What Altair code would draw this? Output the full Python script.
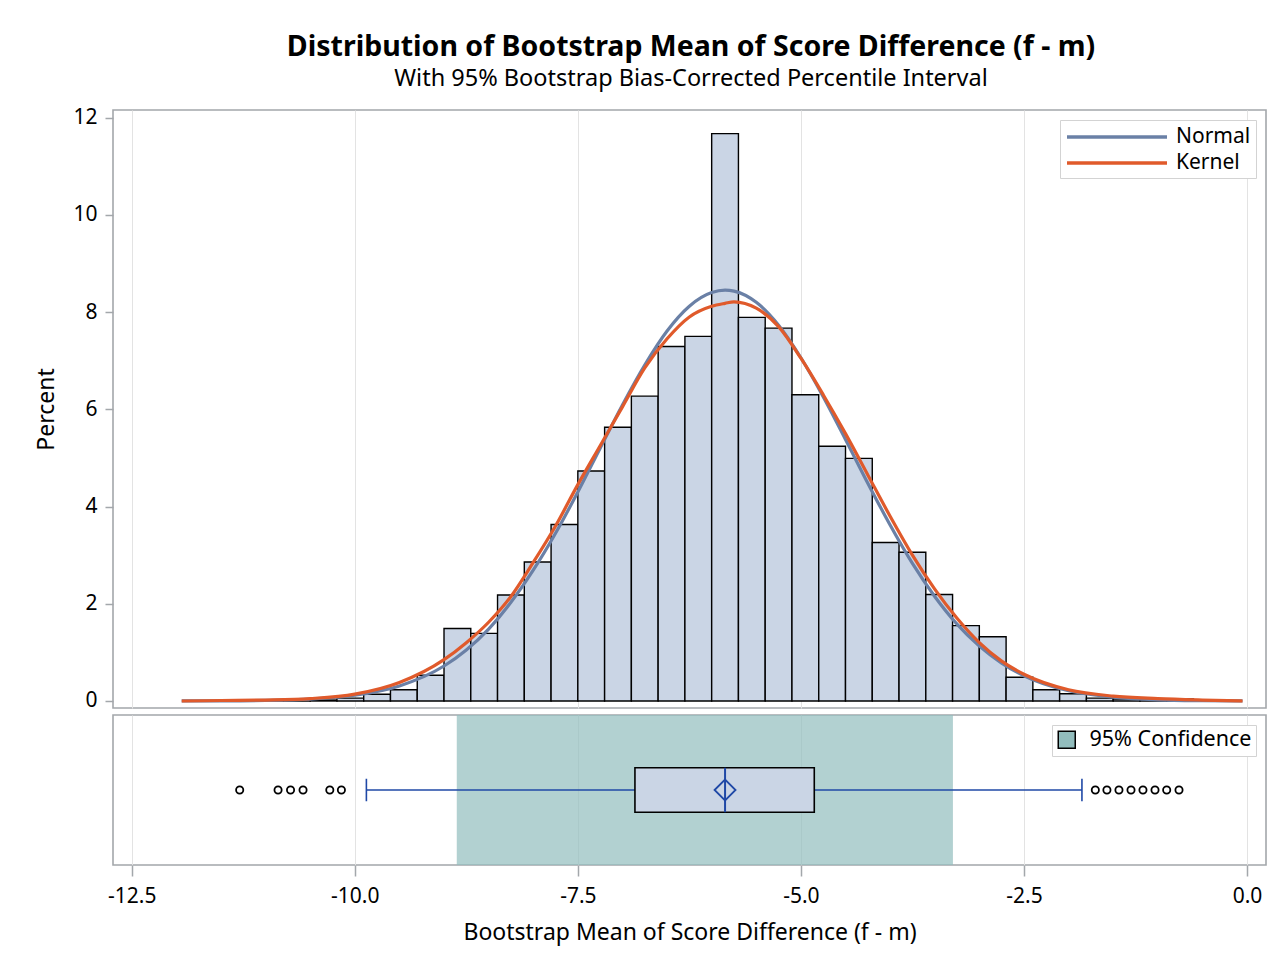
import altair as alt
import pandas as pd

FONT = "Noto Sans"

# ---------------- data ----------------
bin_mid = [-11.25, -10.95, -10.65, -10.35, -10.05, -9.75, -9.45, -9.15, -8.85, -8.55,
           -8.25, -7.95, -7.65, -7.35, -7.05, -6.75, -6.45, -6.15, -5.85, -5.55,
           -5.25, -4.95, -4.65, -4.35, -4.05, -3.75, -3.45, -3.15, -2.85, -2.55,
           -2.25, -1.95, -1.65, -1.35, -1.05, -0.75]
bin_pct = [0.02, 0.02, 0.04, 0.02, 0.06, 0.14, 0.23, 0.53, 1.49, 1.39,
           2.18, 2.86, 3.63, 4.73, 5.63, 6.27, 7.29, 7.50, 11.67, 7.89,
           7.67, 6.30, 5.24, 4.99, 3.26, 3.06, 2.19, 1.55, 1.32, 0.49,
           0.23, 0.15, 0.06, 0.04, 0.04, 0.04]
bin_width = 0.3

curve_x = [-11.94, -11.5, -11.0, -10.5, -10.0, -9.5, -9.0, -8.75, -8.5, -8.25,
           -8.0, -7.75, -7.5, -7.25, -7.0, -6.75, -6.5, -6.25, -6.0, -5.85,
           -5.75, -5.5, -5.25, -5.0, -4.75, -4.5, -4.25, -4.0, -3.75, -3.5,
           -3.25, -3.0, -2.75, -2.5, -2.0, -1.5, -1.0, -0.5, -0.05]
normal_y = [0.001, 0.003, 0.012, 0.04, 0.118, 0.31, 0.72, 1.05, 1.48, 2.03,
            2.69, 3.45, 4.30, 5.20, 6.09, 6.91, 7.61, 8.12, 8.40, 8.45,
            8.43, 8.20, 7.73, 7.06, 6.26, 5.38, 4.48, 3.62, 2.83, 2.15,
            1.58, 1.13, 0.78, 0.52, 0.21, 0.08, 0.025, 0.007, 0.002]
kernel_y = [0.0, 0.01, 0.02, 0.05, 0.14, 0.38, 0.85, 1.20, 1.62, 2.15,
            2.85, 3.60, 4.45, 5.25, 6.05, 6.85, 7.45, 7.90, 8.12, 8.18,
            8.21, 8.08, 7.70, 7.05, 6.30, 5.50, 4.65, 3.80, 3.00, 2.30,
            1.70, 1.20, 0.82, 0.55, 0.23, 0.10, 0.05, 0.02, 0.0]

box_q1 = -6.86
box_median = -5.85
box_mean = -5.85
box_q3 = -4.85
whisker_lo = -9.87
whisker_hi = -1.85
ci_lo = -8.857
ci_hi = -3.296
outliers = [-11.29, -10.86, -10.72, -10.58, -10.28, -10.15,
            -1.70, -1.57, -1.435, -1.30, -1.166, -1.031, -0.90, -0.762]

x_ticks = [-12.5, -10.0, -7.5, -5.0, -2.5, 0.0]
y_ticks = [0, 2, 4, 6, 8, 10, 12]

# ---------------- styling ----------------
X_DOMAIN = [-12.71, 0.213]
W = 1153
H_TOP = 598
H_BOT = 150
BAR_FILL = "#CAD5E5"
BLUE = "#6A80A6"
ORANGE = "#E05A2B"
BOX_BLUE = "#1F48A6"
GRID = "#e3e3e3"
FRAME = "#a3a7ab"
TICK_FS = 21
AXT_FS = 23

hist_df = pd.DataFrame({"mid": bin_mid, "pct": bin_pct})
curve_df = pd.concat([
    pd.DataFrame({"x": curve_x, "y": normal_y, "series": "Normal"}),
    pd.DataFrame({"x": curve_x, "y": kernel_y, "series": "Kernel"}),
])

xscale = alt.Scale(domain=X_DOMAIN, nice=False, zero=False)

x_top_axis = alt.Axis(values=x_ticks, labels=False, ticks=False, domain=False,
                      grid=True, gridColor=GRID, title=None)

bars = alt.Chart(hist_df).transform_calculate(
    lo=f"datum.mid - {bin_width}/2", hi=f"datum.mid + {bin_width}/2"
).mark_rect(fill=BAR_FILL, stroke="black", strokeWidth=1.4).encode(
    x=alt.X("lo:Q", scale=xscale, axis=x_top_axis),
    x2="hi:Q",
    y=alt.Y("pct:Q",
            scale=alt.Scale(domain=[-0.144, 12.156], nice=False, zero=False),
            axis=alt.Axis(values=y_ticks, title="Percent", grid=False, domain=False,
                          tickSize=8, tickColor=FRAME, tickWidth=1.5,
                          labelFontSize=TICK_FS, labelFont=FONT, labelPadding=8,
                          titleFontSize=AXT_FS, titleFont=FONT, titleFontWeight="normal",
                          titlePadding=14, titleColor="black", labelColor="black")),
    y2=alt.datum(0),
)

color_scale = alt.Scale(domain=["Normal", "Kernel"], range=[BLUE, ORANGE])
legend_top = alt.Legend(title=None, orient="top-right", offset=10,
                        strokeColor="#d3d3d3", fillColor="white", padding=5,
                        labelFont=FONT, labelFontSize=21, labelColor="black",
                        symbolType="M-5,0H5", symbolSize=400, symbolStrokeWidth=3.5,
                        symbolOffset=40, labelOffset=47, rowPadding=4, labelLimit=300)

def curve_layer(name):
    return alt.Chart(curve_df).transform_filter(
        alt.datum.series == name
    ).mark_line(strokeWidth=3.2, interpolate="monotone").encode(
        x=alt.X("x:Q", scale=xscale),
        y=alt.Y("y:Q"),
        color=alt.Color("series:N", scale=color_scale, legend=legend_top),
    )

top = alt.layer(bars, curve_layer("Normal"), curve_layer("Kernel")).properties(
    width=W, height=H_TOP)

# ---------------- box panel ----------------
ci_df = pd.DataFrame({"lo": [ci_lo], "hi": [ci_hi], "lab": ["95% Confidence"]})
box_df = pd.DataFrame({"q1": [box_q1], "q3": [box_q3], "med": [box_median],
                       "mean": [box_mean], "wlo": [whisker_lo], "whi": [whisker_hi]})
out_df = pd.DataFrame({"x": outliers})

yb = alt.Scale(domain=[0, 1], nice=False)
x_bot_axis = alt.Axis(values=x_ticks, grid=True, gridColor=GRID, domain=False,
                      tickSize=11, tickColor=FRAME, tickWidth=1.5,
                      labelExpr="(datum.value < 0 ? '-' : '') + format(abs(datum.value), '.1f')",
                      labelFontSize=TICK_FS, labelFont=FONT, labelColor="black", labelPadding=9,
                      title="Bootstrap Mean of Score Difference (f - m)",
                      titleFontSize=AXT_FS, titleFont=FONT, titleFontWeight="normal",
                      titleColor="black", titlePadding=15)

band = alt.Chart(ci_df).mark_rect(opacity=0.7, strokeWidth=0).encode(
    x=alt.X("lo:Q", scale=xscale, axis=x_bot_axis),
    x2="hi:Q",
    y=alt.datum(0, scale=yb, axis=None),
    y2=alt.datum(1),
    fill=alt.Fill("lab:N", scale=alt.Scale(range=["#92BDBD"]),
                  legend=alt.Legend(title=None, orient="top-right", offset=10,
                                    strokeColor="#d3d3d3", fillColor="white", padding=4,
                                    labelFont=FONT, labelFontSize=21.5, labelColor="black",
                                    symbolType="square", symbolSize=289,
                                    symbolStrokeColor="black", symbolStrokeWidth=1.5,
                                    symbolOpacity=1, symbolFillColor="#B3D1D1",
                                    labelOffset=12, labelLimit=400)),
)

whisk_l = alt.Chart(box_df).mark_rule(color=BOX_BLUE, strokeWidth=1.6).encode(
    x=alt.X("wlo:Q", scale=xscale), x2="q1:Q", y=alt.datum(0.5, scale=yb))
whisk_r = alt.Chart(box_df).mark_rule(color=BOX_BLUE, strokeWidth=1.6).encode(
    x=alt.X("q3:Q", scale=xscale), x2="whi:Q", y=alt.datum(0.5, scale=yb))
cap_l = alt.Chart(box_df).mark_rule(color=BOX_BLUE, strokeWidth=1.6).encode(
    x=alt.X("wlo:Q", scale=xscale), y=alt.datum(0.425, scale=yb), y2=alt.datum(0.575))
cap_r = alt.Chart(box_df).mark_rule(color=BOX_BLUE, strokeWidth=1.6).encode(
    x=alt.X("whi:Q", scale=xscale), y=alt.datum(0.425, scale=yb), y2=alt.datum(0.575))
box = alt.Chart(box_df).mark_rect(fill=BAR_FILL, stroke="black", strokeWidth=1.6).encode(
    x=alt.X("q1:Q", scale=xscale), x2="q3:Q",
    y=alt.datum(0.352, scale=yb), y2=alt.datum(0.648))
med = alt.Chart(box_df).mark_rule(color=BOX_BLUE, strokeWidth=2).encode(
    x=alt.X("med:Q", scale=xscale), y=alt.datum(0.352, scale=yb), y2=alt.datum(0.648))
mean_pt = alt.Chart(box_df).mark_point(shape="diamond", size=440, color=BOX_BLUE,
                                       filled=False, strokeWidth=1.8, opacity=1).encode(
    x=alt.X("mean:Q", scale=xscale), y=alt.datum(0.5, scale=yb))
outs = alt.Chart(out_df).mark_point(shape="circle", size=52, color="black",
                                    filled=False, strokeWidth=1.8, opacity=1).encode(
    x=alt.X("x:Q", scale=xscale), y=alt.datum(0.5, scale=yb))

bottom = alt.layer(band, whisk_l, whisk_r, cap_l, cap_r, box, med, mean_pt, outs).properties(
    width=W, height=H_BOT)

chart = alt.vconcat(top, bottom, spacing=2).resolve_legend(
    color="independent", fill="independent"
).properties(
    title=alt.TitleParams(
        text="Distribution of Bootstrap Mean of Score Difference (f - m)",
        subtitle="With 95% Bootstrap Bias-Corrected Percentile Interval",
        font=FONT, fontSize=28.5, fontWeight="bold", color="black",
        subtitleFont=FONT, subtitleFontSize=23.5, subtitleColor="black",
        subtitlePadding=6, anchor="middle", offset=15, dx=40),
    padding={"left": 27, "top": 24, "right": 10, "bottom": 10},
    background="white",
).configure_view(stroke=FRAME, strokeWidth=1.6)

chart.save("out.html", embed_options={"renderer": "svg", "actions": False})
